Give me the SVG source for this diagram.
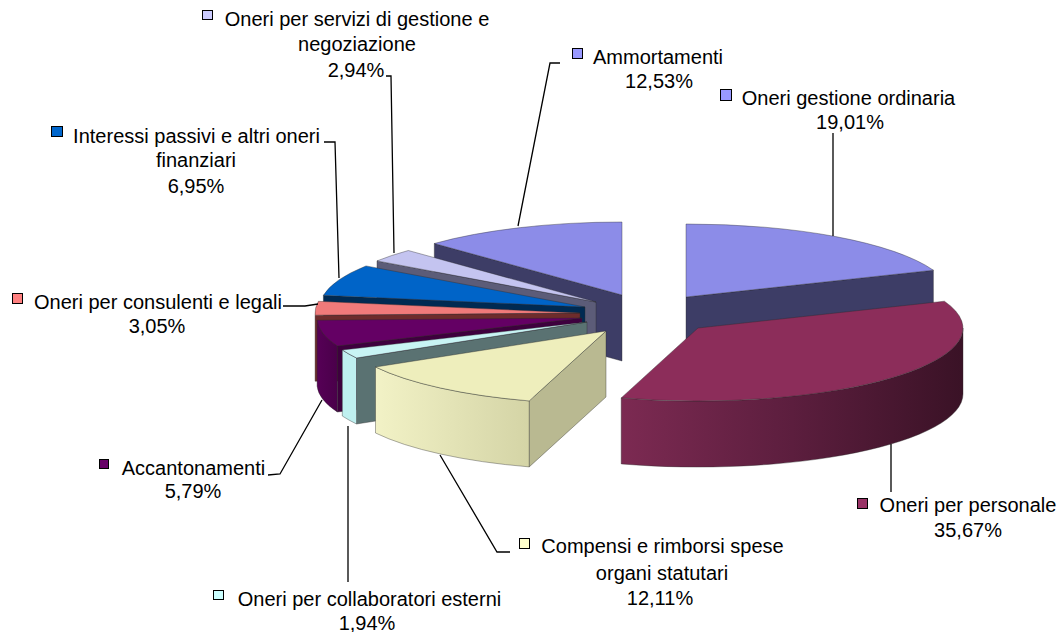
<svg xmlns="http://www.w3.org/2000/svg" width="1062" height="632" viewBox="0 0 1062 632">
<defs>
<style>
.lbl{font-family:"Liberation Sans",Arial,sans-serif;font-size:20px;fill:#000;text-anchor:middle}
.key{stroke:#000;stroke-width:1}
.conn{fill:none;stroke:#000;stroke-width:1.3}
.edge{stroke:#2a2a2a;stroke-width:0.7;stroke-opacity:0.55;stroke-linejoin:round}
</style>
<linearGradient id="gPersSide" x1="0" y1="0" x2="1" y2="0">
<stop offset="0" stop-color="#7c2a52"/>
<stop offset="0.5" stop-color="#5c1e3e"/>
<stop offset="1" stop-color="#3a1226"/>
</linearGradient>
<linearGradient id="gCompSide" x1="0" y1="0" x2="1" y2="0">
<stop offset="0" stop-color="#f2f2c6"/>
<stop offset="1" stop-color="#d4d4a6"/>
</linearGradient>
<linearGradient id="gAccSide" x1="0" y1="0" x2="1" y2="0">
<stop offset="0" stop-color="#560056"/>
<stop offset="1" stop-color="#4a004a"/>
</linearGradient>
</defs>
<rect width="1062" height="632" fill="#fff"/>

<g id="slice-ammortamenti">
<path class="edge" d="M622,295 L434.3,243.5 L434.3,309.5 L622,361 Z" fill="#3d3d66"/>
<path class="edge" d="M622,295 L434.3,243.5 A265,73 0 0 1 622,222 Z" fill="#8c8ce8"/>
</g>
<g id="slice-servizi">
<path class="edge" d="M596,302 L377,260.9 L377,326.9 L596,368 Z" fill="#5c5c78"/>
<path class="edge" d="M596,302 L377,260.9 A265,73 0 0 1 408.3,250.5 Z" fill="#c4c4f0"/>
</g>
<g id="slice-interessi">
<path class="edge" d="M585,307 L323.4,295.3 L323.4,361.3 L585,373 Z" fill="#002a52"/>
<path class="edge" d="M585,307 L323.4,295.3 A265,73 0 0 1 366,265.9 Z" fill="#0064c8"/>
</g>
<g id="slice-gestione">
<path class="edge" d="M686,297 L933.4,270.2 L933.4,336.2 L686,363 Z" fill="#3d3d66"/>
<path class="edge" d="M686,297 L686,224 A265,73 0 0 1 933.4,270.2 Z" fill="#8c8ce8"/>
</g>
<g id="slice-consulenti">
<path class="edge" d="M580,313 L315.1,315.2 L315.1,381.2 L580,379 Z" fill="#6e2c2c"/>
<path class="edge" d="M580,313 L315.1,315.2 A265,73 0 0 1 318.4,301.3 Z" fill="#f07a7a"/>
</g>
<g id="slice-accantonamenti">
<path class="edge" d="M582,318 L337.3,346 L337.3,412 L582,384 Z" fill="#3e003e"/>
<path class="edge" d="M337.3,346 A265,73 0 0 1 317.1,320.2 L317.1,386.2 A265,73 0 0 0 337.3,412 Z" fill="url(#gAccSide)"/>
<path class="edge" d="M582,318 L337.3,346 A265,73 0 0 1 317.1,320.2 Z" fill="#640064"/>
</g>
<g id="slice-personale">
<path class="edge" d="M963,328 A265,73 0 0 1 621.2,397.9 L621.2,463.9 A265,73 0 0 0 963,394 Z" fill="url(#gPersSide)"/>
<path class="edge" d="M698,328 L944.4,301.2 A265,73 0 0 1 621.2,397.9 Z" fill="#8c2d5a"/>
</g>
<g id="slice-collaboratori">
<path class="edge" d="M587,322 L356.5,358 L356.5,424 L587,388 Z" fill="#5a7272"/>
<path class="edge" d="M356.5,358 A265,73 0 0 1 342.3,350 L342.3,416 A265,73 0 0 0 356.5,424 Z" fill="#bff0f0"/>
<path class="edge" d="M587,322 L356.5,358 A265,73 0 0 1 342.3,350 Z" fill="#c8f4f4"/>
</g>
<g id="slice-compensi">
<path class="edge" d="M606,331 L529.2,400.9 L529.2,466.9 L606,397 Z" fill="#b9b991"/>
<path class="edge" d="M529.2,400.9 A265,73 0 0 1 375.5,367 L375.5,433 A265,73 0 0 0 529.2,466.9 Z" fill="url(#gCompSide)"/>
<path class="edge" d="M606,331 L529.2,400.9 A265,73 0 0 1 375.5,367 Z" fill="#eeeebc"/>
</g>

<g id="connectors">
<path class="conn" d="M386,76 L391,76 L394,253"/>
<path class="conn" d="M324,142 L335,142 L339,278"/>
<path class="conn" d="M283,306 L305,306 L318,304"/>
<path class="conn" d="M268,475 L280,474 L322,400"/>
<path class="conn" d="M348,426 L348,582"/>
<path class="conn" d="M440,455 L497,552 L510,552"/>
<path class="conn" d="M891,444 L891,492"/>
<path class="conn" d="M833,133 L833,236"/>
<path class="conn" d="M560,63 L550,63 L518,226"/>
</g>

<g id="label-servizi">
<rect class="key" x="202.5" y="10.5" width="10" height="9" fill="#ccccff"/>
<text class="lbl" x="357" y="26">Oneri per servizi di gestione e</text>
<text class="lbl" x="357" y="51">negoziazione</text>
<text class="lbl" x="356" y="77">2,94%</text>
</g>
<g id="label-ammortamenti">
<rect class="key" x="572.5" y="48.5" width="10" height="10" fill="#9999ff"/>
<text class="lbl" x="658" y="64">Ammortamenti</text>
<text class="lbl" x="659" y="88">12,53%</text>
</g>
<g id="label-gestione">
<rect class="key" x="720.5" y="89.5" width="11" height="11" fill="#9999ff"/>
<text class="lbl" x="848.5" y="105">Oneri gestione ordinaria</text>
<text class="lbl" x="850" y="129">19,01%</text>
</g>
<g id="label-interessi">
<rect class="key" x="51.5" y="126.5" width="11" height="10" fill="#0066cc"/>
<text class="lbl" x="196.5" y="143">Interessi passivi e altri oneri</text>
<text class="lbl" x="196" y="167">finanziari</text>
<text class="lbl" x="196" y="193">6,95%</text>
</g>
<g id="label-consulenti">
<rect class="key" x="12.5" y="293.5" width="10" height="10" fill="#ff8080"/>
<text class="lbl" x="158" y="309">Oneri per consulenti e legali</text>
<text class="lbl" x="157" y="333">3,05%</text>
</g>
<g id="label-accantonamenti">
<rect class="key" x="99.5" y="459.5" width="9" height="9" fill="#660066"/>
<text class="lbl" x="193.5" y="475">Accantonamenti</text>
<text class="lbl" x="193" y="498">5,79%</text>
</g>
<g id="label-collaboratori">
<rect class="key" x="213.5" y="590.5" width="10" height="9" fill="#ccffff"/>
<text class="lbl" x="369.5" y="606">Oneri per collaboratori esterni</text>
<text class="lbl" x="367" y="630">1,94%</text>
</g>
<g id="label-compensi">
<rect class="key" x="519.5" y="538.5" width="10" height="10" fill="#ffffcc"/>
<text class="lbl" x="662.5" y="553">Compensi e rimborsi spese</text>
<text class="lbl" x="662" y="580">organi statutari</text>
<text class="lbl" x="660" y="605">12,11%</text>
</g>
<g id="label-personale">
<rect class="key" x="857.5" y="498.5" width="10" height="10" fill="#993366"/>
<text class="lbl" x="968" y="512">Oneri per personale</text>
<text class="lbl" x="968" y="537">35,67%</text>
</g>
</svg>
